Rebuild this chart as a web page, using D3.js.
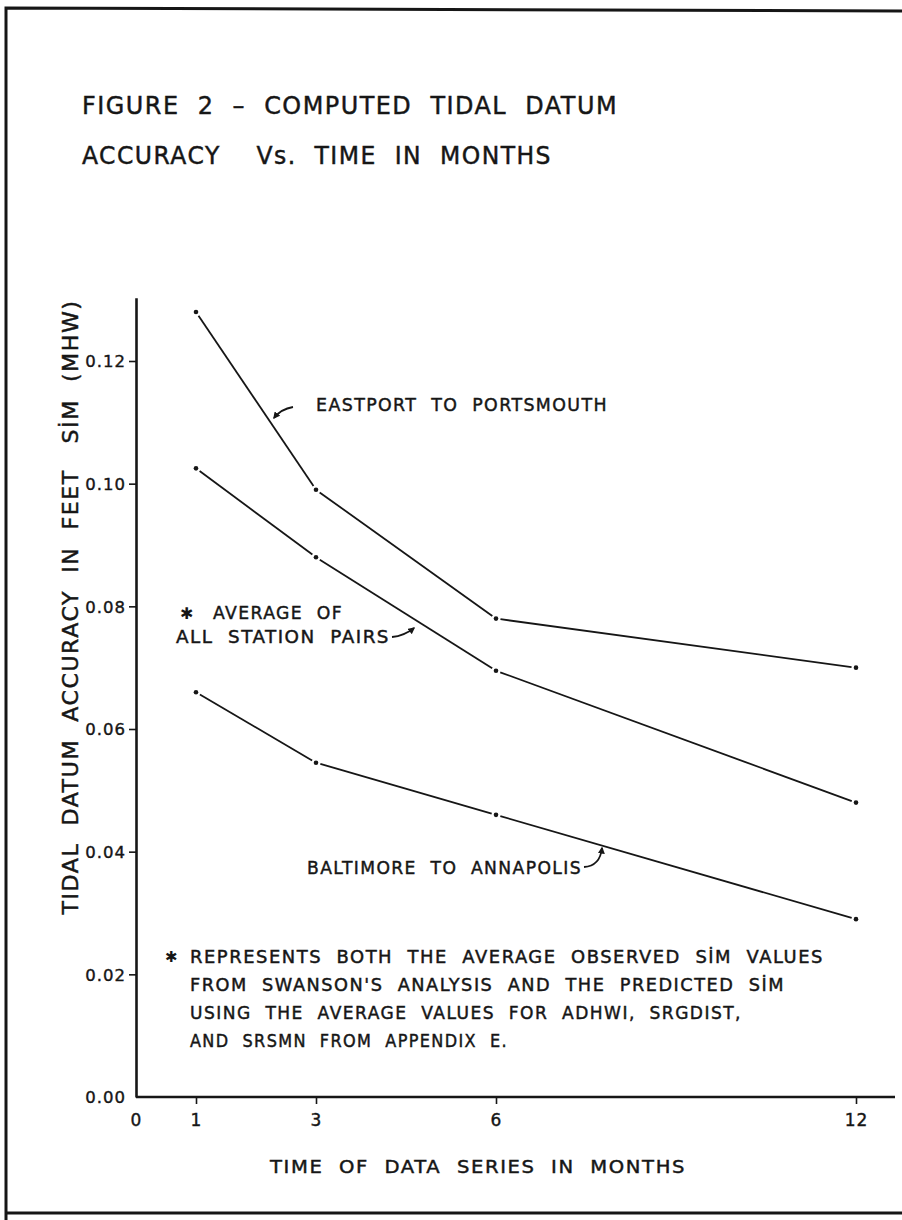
<!DOCTYPE html>
<html>
<head>
<meta charset="utf-8">
<script src="https://cdn.jsdelivr.net/npm/d3@7"></script>
<style>
  body { margin: 0; background: #fff; }
  text { font-family: "DejaVu Sans", sans-serif; fill: #161616; white-space: pre; }
  .lettering { stroke: #161616; stroke-width: 0.45; letter-spacing: 1.5px; }
</style>
</head>
<body>
<script>
// data
var months = [1, 3, 6, 12];
var eastport = [0.128, 0.099, 0.078, 0.070];
var average = [0.1025, 0.088, 0.0695, 0.048];
var baltimore = [0.066, 0.0545, 0.046, 0.029];
var xTicks = [0, 1, 3, 6, 12];
var yTicks = [0, 0.02, 0.04, 0.06, 0.08, 0.10, 0.12];

var svgWidth = 902;
var svgHeight = 1220;
var ink = "#161616";

var svg = d3.select("body")
  .append("svg")
  .attr("width", svgWidth)
  .attr("height", svgHeight);

// page frame of the scanned sheet
svg.append("path")
  .attr("d", "M6,1220 L6,8 L902,11 M6,1213 L902,1213")
  .attr("fill", "none")
  .attr("stroke", ink)
  .attr("stroke-width", 3);

// scales
var x = d3.scaleLinear().domain([0, 12.65]).range([136, 895]);
var y = d3.scaleLinear().domain([0, 0.12]).range([1097, 361]);
var yTop = 0.1303;

// helper for lettering: font size sets the height, textLength the width
function label(px, py, str, size, len, anchor) {
  var t = svg.append("text")
    .attr("class", "lettering")
    .attr("x", px)
    .attr("y", py)
    .attr("font-size", size)
    .attr("text-anchor", anchor || "start")
    .text(str);
  if (len) t.attr("textLength", len).attr("lengthAdjust", "spacingAndGlyphs");
  return t;
}

// title
label(82, 114, "FIGURE  2  –  COMPUTED  TIDAL  DATUM", 24, 536).attr("stroke-width", 0.8);
label(82, 164, "ACCURACY    Vs.  TIME  IN  MONTHS", 24, 470).attr("stroke-width", 0.8);

// x axis
var xAxis = svg.append("g")
  .attr("transform", `translate(0, ${y(0)})`)
  .call(d3.axisBottom(x).tickValues(xTicks).tickSize(7).tickSizeOuter(0).tickPadding(10).tickFormat(d3.format("d")));

// y axis
var yAxis = svg.append("g")
  .attr("transform", `translate(${x(0)}, 0)`)
  .call(d3.axisLeft(y.copy().domain([0, yTop]).range([y(0), y(yTop)])).tickValues(yTicks).tickSize(7).tickSizeOuter(0).tickPadding(3).tickFormat(d3.format(".2f")));

[xAxis, yAxis].forEach(function (ax) {
  ax.select(".domain").attr("stroke", ink).attr("stroke-width", 2.6);
  ax.selectAll(".tick line").attr("stroke", ink).attr("stroke-width", 1.6);
  ax.selectAll(".tick text")
    .attr("fill", ink)
    .attr("stroke", ink)
    .attr("stroke-width", 0.4)
    .attr("font-size", 17)
    .attr("letter-spacing", 1)
    .style("font-family", "\"DejaVu Sans\", sans-serif");
  ax.selectAll(".tick").filter(function (d) { return d === 0; }).select("line").remove();
});
xAxis.select(".domain").attr("d", `M${x(0)},0H${x(12.65)}`);
yAxis.selectAll(".tick text").attr("dy", "0.36em").attr("font-size", 16.5);

// axis titles
label(478, 1173, "TIME  OF  DATA  SERIES  IN  MONTHS", 18.5, 416, "middle");
svg.append("text")
  .attr("class", "lettering")
  .attr("transform", "translate(78,607) rotate(-90)")
  .attr("font-size", 21.5)
  .attr("text-anchor", "middle")
  .attr("textLength", 615)
  .attr("lengthAdjust", "spacingAndGlyphs")
  .attr("stroke-width", 0.7)
  .text("TIDAL  DATUM  ACCURACY  IN  FEET   SİM  (MHW)");

// series: dots with line segments stopping short of them
var series = [eastport, average, baltimore];
var gap = 4.5;
series.forEach(function (vals) {
  var pts = months.map(function (m, i) { return [x(m), y(vals[i])]; });
  d3.pairs(pts).forEach(function (p) {
    var dx = p[1][0] - p[0][0], dy = p[1][1] - p[0][1];
    var L = Math.sqrt(dx * dx + dy * dy);
    var ux = dx / L, uy = dy / L;
    svg.append("line")
      .attr("x1", p[0][0] + ux * gap).attr("y1", p[0][1] + uy * gap)
      .attr("x2", p[1][0] - ux * gap).attr("y2", p[1][1] - uy * gap)
      .attr("stroke", ink)
      .attr("stroke-width", 1.8);
  });
  svg.selectAll(null)
    .data(pts)
    .enter().append("circle")
    .attr("cx", function (d) { return d[0]; })
    .attr("cy", function (d) { return d[1]; })
    .attr("r", 2.3)
    .attr("fill", ink);
});

// arrowheads for the curve labels
svg.append("defs").append("marker")
  .attr("id", "head")
  .attr("viewBox", "0 0 10 10")
  .attr("refX", 8).attr("refY", 5)
  .attr("markerWidth", 7).attr("markerHeight", 7)
  .attr("markerUnits", "userSpaceOnUse")
  .attr("orient", "auto")
  .append("path")
  .attr("d", "M0,0 L10,5 L0,10 Z")
  .attr("fill", ink);

function arrow(d) {
  svg.append("path")
    .attr("d", d)
    .attr("fill", "none")
    .attr("stroke", ink)
    .attr("stroke-width", 1.8)
    .attr("marker-end", "url(#head)");
}

// curve labels
label(316, 411, "EASTPORT  TO  PORTSMOUTH", 18.5, 292);
arrow("M293,407 Q281,409 274,418");

svg.append("text").attr("x", 180).attr("y", 619).attr("font-size", 16).text("✱");
label(213, 619, "AVERAGE  OF", 18.5, 130);
label(176, 643, "ALL  STATION  PAIRS", 18.5, 214);
arrow("M392,637 Q404,636 414,628");

label(307, 874, "BALTIMORE  TO  ANNAPOLIS", 18.5, 275);
arrow("M584,867 Q600,866 602,848");

// footnote
svg.append("text").attr("x", 165).attr("y", 962).attr("font-size", 15).text("✱");
label(190, 963, "REPRESENTS  BOTH  THE  AVERAGE  OBSERVED  SİM  VALUES", 17.5, 634);
label(190, 991, "FROM  SWANSON'S  ANALYSIS  AND  THE  PREDICTED  SİM", 17.5, 595);
label(190, 1019, "USING  THE  AVERAGE  VALUES  FOR  ADHWI,  SRGDIST,", 17.5, 552);
label(190, 1047, "AND  SRSMN  FROM  APPENDIX  E.", 17.5, 318);
</script>
</body>
</html>
